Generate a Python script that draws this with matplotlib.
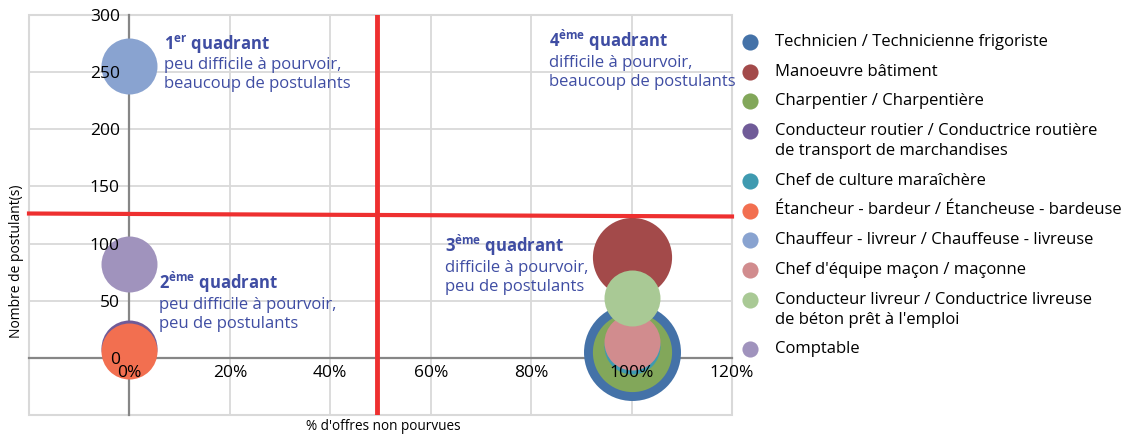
import matplotlib
matplotlib.use('Agg')
import matplotlib.pyplot as plt
from matplotlib.patches import Rectangle

plt.rcParams['font.family'] = ['Open Sans', 'DejaVu Sans']
plt.rcParams['mathtext.fontset'] = 'custom'
plt.rcParams['mathtext.rm'] = 'Open Sans'
plt.rcParams['mathtext.bf'] = 'Open Sans:bold'

# donnees
metiers = [
    'Technicien / Technicienne frigoriste',
    'Manoeuvre bâtiment',
    'Charpentier / Charpentière',
    'Conducteur routier / Conductrice routière\nde transport de marchandises',
    'Chef de culture maraîchère',
    'Étancheur - bardeur / Étancheuse - bardeuse',
    'Chauffeur - livreur / Chauffeuse - livreuse',
    "Chef d'équipe maçon / maçonne",
    'Conducteur livreur / Conductrice livreuse\nde béton prêt à l\'emploi',
    'Comptable',
]
offres_non_pourvues = [100, 100, 100, 0, 100, 0, 0, 100, 100, 0]
postulants = [5, 88, 5, 9, 10, 6, 255, 14, 52, 82]
taille = [3, 2, 2, 1, 1, 1, 1, 1, 1, 1]
couleurs = ['#4472A8', '#A34A4A', '#82A75A', '#705B98', '#3F9AB0',
            '#F26F50', '#89A3D0', '#D18C8E', '#A9C995', '#A093BD']

seuil_offres = 49.4
seuil_postulants = [126.3, 123.7]

x_ticks = [0, 20, 40, 60, 80, 100, 120]
y_ticks = [0, 50, 100, 150, 200, 250, 300]

quadrants = [
    (r'$\mathbf{1}^{\mathbf{er}}$ quadrant', 'peu difficile à pourvoir,', 'beaucoup de postulants', 6.8, 270),
    (r'$\mathbf{4}^{\mathbf{\`eme}}$ quadrant', 'difficile à pourvoir,', 'beaucoup de postulants', 83.6, 272),
    (r'$\mathbf{2}^{\mathbf{\`eme}}$ quadrant', 'peu difficile à pourvoir,', 'peu de postulants', 5.8, 60),
    (r'$\mathbf{3}^{\mathbf{\`eme}}$ quadrant', 'difficile à pourvoir,', 'peu de postulants', 62.9, 92.5),
]

W, H = 1132, 437
fig = plt.figure(figsize=(W / 100, H / 100), dpi=100)
ax = fig.add_axes([29 / W, 22 / H, 703 / W, 400 / H])
ax.set_xlim(-20, 120)
ax.set_ylim(-50, 300)
ax.set_axisbelow(False)

grid_col = '#D9D9D9'
for v in x_ticks[1:]:
    ax.axvline(v, color=grid_col, lw=1.3, zorder=0)
for v in y_ticks[1:]:
    ax.axhline(v, color=grid_col, lw=1.3, zorder=0)
ax.add_patch(Rectangle((0, 0), 1, 1, transform=ax.transAxes, fill=False,
                       edgecolor=grid_col, lw=1.5, zorder=0, clip_on=False))

for sp in ['top', 'right']:
    ax.spines[sp].set_visible(False)
ax.spines['left'].set_position(('data', 0))
ax.spines['bottom'].set_position(('data', 0))
for sp in ['left', 'bottom']:
    ax.spines[sp].set_color('#868686')
    ax.spines[sp].set_linewidth(1.6)
    ax.spines[sp].set_zorder(0.6)

unit = 1625
for i in range(len(metiers)):
    ax.scatter(offres_non_pourvues[i], postulants[i], s=taille[i] * unit,
               color=couleurs[i], linewidths=0, zorder=2)

ax.set_xticks(x_ticks)
ax.set_xticklabels([f'{v}%' for v in x_ticks])
ax.set_yticks(y_ticks)
ax.tick_params(length=0, labelsize=12.5, colors='black')
ax.tick_params(axis='x', pad=5)
ax.tick_params(axis='y', pad=7)

ax.plot([-20, 120], seuil_postulants, color='#EE3030', lw=3, zorder=3, clip_on=False)
ax.axvline(seuil_offres, color='#EE3030', lw=3.5, zorder=3)

txt_col = '#3F4DA3'
for titre, l1, l2, x, y in quadrants:
    ax.annotate(titre, (x, y), textcoords='offset pixels', xytext=(0, 0),
                fontsize=12, fontweight='bold', color=txt_col, va='baseline')
    ax.annotate(l1, (x, y), textcoords='offset pixels', xytext=(0, -20),
                fontsize=12, color=txt_col, va='baseline')
    ax.annotate(l2, (x, y), textcoords='offset pixels', xytext=(0, -39),
                fontsize=12, color=txt_col, va='baseline')

fig.text(17 / W, 1 - 261 / H, 'Nombre de postulant(s)', rotation=90,
         ha='center', va='center', fontsize=10)
fig.text(383 / W, 1 - 427 / H, "% d'offres non pourvues",
         ha='center', va='center', fontsize=9.8)

# legende
lg = fig.add_axes([740 / W, 0, (W - 740) / W, 1])
lg.set_xlim(740, W)
lg.set_ylim(H, 0)
lg.axis('off')
y = 42
for nom, c in zip(metiers, couleurs):
    lg.scatter(750, y, s=135, color=c, linewidths=0)
    lignes = nom.split('\n')
    for j, ligne in enumerate(lignes):
        lg.text(775, y + 20 * j, ligne, fontsize=12, va='center', ha='left')
    y += 20 * len(lignes) + 9.7

fig.savefig('out.png', dpi=100)
